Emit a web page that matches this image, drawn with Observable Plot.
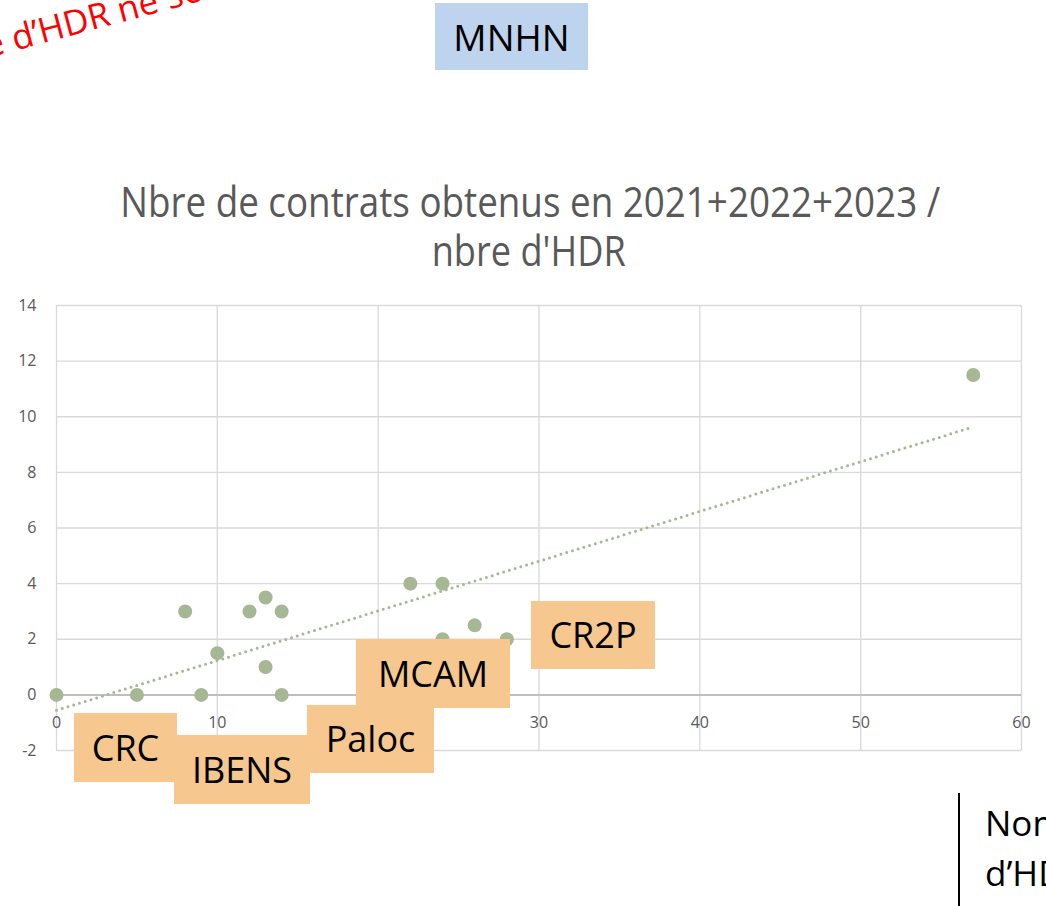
<!DOCTYPE html>
<html><head><meta charset="utf-8">
<script src="https://cdn.jsdelivr.net/npm/d3@7"></script>
<script src="https://cdn.jsdelivr.net/npm/@observablehq/plot@0.6"></script>
<style>
html,body{margin:0;padding:0;background:#fff;}
body{width:1046px;height:906px;overflow:hidden;position:relative;font-family:"Open Sans",sans-serif;}
.abs{position:absolute;white-space:nowrap;line-height:1;}
.box{position:absolute;display:flex;align-items:center;justify-content:center;font-size:32px;color:#000;line-height:1;white-space:nowrap;}
</style></head><body>
<script>
// ---- data ----
const hdr      = [0, 5, 8, 9, 10, 12, 13, 13, 14, 14, 22, 24, 24, 26, 28, 57];
const contrats = [0, 0, 3, 0, 1.5, 3, 3.5, 1, 3, 0, 4, 4, 2, 2.5, 2, 11.5];
const xTicks = [0, 10, 20, 30, 40, 50, 60];
const yTicks = [-2, 0, 2, 4, 6, 8, 10, 12, 14];
const titleLines = ["Nbre de contrats obtenus en 2021+2022+2023 /", "nbre d'HDR"];
const unitLabels = ["CRC", "IBENS", "Paloc", "MCAM", "CR2P"];
const headerLabel = "MNHN";
const redNote = "Nombre d’HDR ne sont pas à jour";
const sideNote = ["Nombre", "d’HDR"];

// ---- chart ----
const points = hdr.map((x, i) => ({x, y: contrats[i]}));
const green = "#a6b793";
const chart = Plot.plot({
  width: 1046, height: 470,
  marginLeft: 56, marginRight: 25, marginTop: 15, marginBottom: 10,
  x: {domain: [0, 60], axis: null},
  y: {domain: [-2, 14], axis: null},
  style: {fontFamily: "'Open Sans', sans-serif", fontSize: "16px", color: "#595959", background: "transparent", overflow: "visible"},
  marks: [
    Plot.ruleY(yTicks.filter(d => d !== 0), {stroke: "#d9d9d9", strokeWidth: 1.3}),
    Plot.ruleX(xTicks, {stroke: "#d9d9d9", strokeWidth: 1.3}),
    Plot.ruleY([0], {stroke: "#bfbfbf", strokeWidth: 2}),
    Plot.axisY({ticks: yTicks, tickSize: 0, tickPadding: 20, fontSize: 16, label: null, tickFormat: d => String(d)}),
    Plot.text(xTicks, {x: d => d, y: () => 0, dy: 28, text: d => String(d), fontSize: 16, fill: "#595959"}),
    Plot.linearRegressionY(points, {x: "x", y: "y", ci: 0, stroke: green, strokeWidth: 3, strokeDasharray: "0 6", strokeLinecap: "round"}),
    Plot.dot(points, {x: "x", y: "y", r: 7, fill: green})
  ]
});
chart.style.position = "absolute";
chart.style.left = "0px";
chart.style.top = "290px";
document.body.appendChild(chart);

// ---- overlay annotations ----
function box(txt, l, t, w, h, bg, size) {
  const d = document.createElement("div");
  d.className = "box";
  d.textContent = txt;
  Object.assign(d.style, {left: l + "px", top: t + "px", width: w + "px", height: h + "px", background: bg, fontSize: size + "px"});
  document.body.appendChild(d);
}
box(headerLabel, 435, 3, 153, 67, "#bdd3ee", 37);
const orange = "#f6c88f";
box(unitLabels[0], 74, 713, 103, 69, orange, 36);
box(unitLabels[1], 174, 735, 136, 69, orange, 36);
box(unitLabels[2], 307, 705, 127, 68, orange, 36);
box(unitLabels[3], 356, 639, 154, 69, orange, 36);
box(unitLabels[4], 531, 601, 124, 68, orange, 36);

const texts = [];
function addText(txt, opt) {
  const d = document.createElement("div");
  d.className = "abs";
  d.textContent = txt;
  d.style.fontSize = opt.size + "px";
  d.style.color = opt.color;
  document.body.appendChild(d);
  texts.push([d, opt]);
}
function layout() {
  for (const [d, o] of texts) {
    d.style.transform = "";
    const w = d.getBoundingClientRect().width;
    d.style.top = (o.baseline - 0.888 * o.size) + "px";
    if (o.cx != null) {
      d.style.left = (o.cx - w / 2) + "px";
      d.style.transformOrigin = "50% 0";
      if (o.width) d.style.transform = `scaleX(${o.width / w})`;
    } else {
      d.style.left = o.x + "px";
      if (o.rotate) { d.style.transformOrigin = `0 ${0.888 * o.size}px`; d.style.transform = `rotate(${o.rotate}deg)`; }
    }
  }
}
addText(titleLines[0], {cx: 530, baseline: 217, size: 42, color: "#595959", width: 820});
addText(titleLines[1], {cx: 529, baseline: 266, size: 42, color: "#595959", width: 194});
addText(redNote, {x: -124, baseline: 88, size: 35, color: "#ff0000", rotate: -15});
addText(sideNote[0], {x: 985, baseline: 836, size: 35, color: "#000"});
addText(sideNote[1], {x: 985, baseline: 886, size: 35, color: "#000"});
const vline = document.createElement("div");
Object.assign(vline.style, {position: "absolute", left: "958px", top: "793px", width: "1.5px", height: "113px", background: "#000"});
document.body.appendChild(vline);
layout();
if (document.fonts && document.fonts.ready) document.fonts.ready.then(layout);
</script>
</body></html>
